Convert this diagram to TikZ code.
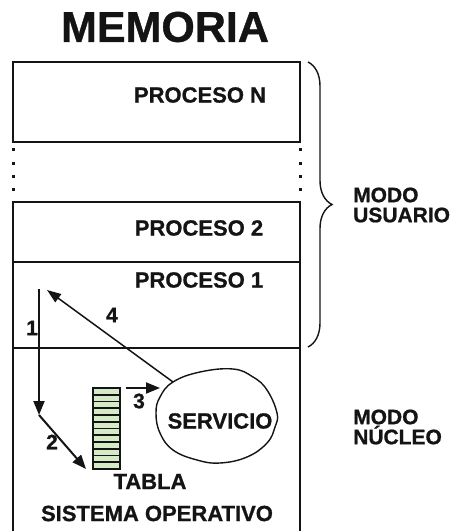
\documentclass[tikz,border=0pt]{standalone}
\usepackage{fontspec}
\setmainfont{Liberation Sans}[BoldFeatures={FakeBold=0.9}]
\usetikzlibrary{arrows.meta,decorations.pathreplacing}
\usepackage{xcolor}
\definecolor{memInk}   {HTML}{141414}
\definecolor{tablaFill}{HTML}{D5EBC7}

\begin{document}
\begin{tikzpicture}[x=1pt, y=-1pt,
  every node/.style ={inner sep=0pt, text=memInk},
  lbl/.style        ={font=\fontsize{22}{25}\selectfont\bfseries},
  num/.style        ={font=\fontsize{21}{22}\selectfont\bfseries},
  modo/.style       ={font=\fontsize{21}{20}\selectfont\bfseries, align=left, anchor=west},
  caja/.style       ={draw=memInk, line width=2.1pt},
  fila/.style       ={draw=memInk, line width=1.6pt, fill=tablaFill},
  flecha/.style     ={-{Triangle[length=14pt, width=11pt]}, line width=2pt, memInk},
  fina/.style       ={-{Triangle[length=14pt, width=10pt]}, line width=1.5pt, memInk},
  punto/.style      ={fill=memInk},
]
\useasboundingbox (0,0) rectangle (456,531);

\node[font=\fontsize{43}{46}\selectfont\bfseries] (titulo) at (165,27) {MEMORIA};

% memory blocks
\draw[caja] (13,62)  rectangle (300,142);
\draw[caja] (13,202) rectangle (300,262);
\draw[caja] (13,262) rectangle (300,348);
\draw[caja] (13,531) -- (13,348) -- (300,348) -- (300,531);
\foreach \y in {149,163,176,189} {
  \fill[punto] (11.5,\y-1.5)  rectangle ++(3,3);
  \fill[punto] (298.5,\y-1.5) rectangle ++(3,3);
}

\node[lbl] (procN) at (200,95)  {PROCESO N};
\node[lbl] (proc2) at (199,228) {PROCESO 2};
\node[lbl] (proc1) at (199,280) {PROCESO 1};

% user mode brace
\draw[line width=1.4pt, memInk, decorate, decoration={brace, amplitude=24pt}] (308,62) -- (308,347);
\node[modo] (usuario) at (353,205) {MODO\\USUARIO};
\node[modo] (nucleo)  at (353,427) {MODO\\NÚCLEO};

% table
\foreach \i in {0,...,11}
  \draw[fila] (93,{388+\i*6.75}) rectangle ++(27,6.75);
\node[lbl] (tabla) at (150,481.5) {TABLA};
\node[lbl] (so)    at (157,513.5) {SISTEMA OPERATIVO};

% service
\draw[line width=1.4pt, memInk] plot[smooth cycle, tension=0.7] coordinates {
  (173,382) (200,372) (233,369) (253,377) (267,390) (277,413) (275,427) (267,443)
  (247,457) (220,463) (197,460) (173,450) (160,433) (156,413) (160,397)};
\node[lbl] (servicio) at (220,421) {SERVICIO};

\coordinate (llamada) at (39,289);
\coordinate (trampa)  at (39,415);
\coordinate (tabSW)   at (86,469);
\coordinate (tabNE)   at (126,388);
\coordinate (svcW)    at (160,388);
\coordinate (svcNW)   at (173,382);
\coordinate (vuelta)  at (47,290);

\draw[flecha] (llamada) -- (trampa);
\draw[flecha] (trampa) -- (tabSW);
\draw[flecha] (tabNE) -- (svcW);
\draw[fina]   (svcNW) -- (vuelta);

\node[num] (n1) at (32,328)  {1};
\node[num] (n2) at (52,442)  {2};
\node[num] (n3) at (139,401) {3};
\node[num] (n4) at (112,315) {4};

\end{tikzpicture}
\end{document}
